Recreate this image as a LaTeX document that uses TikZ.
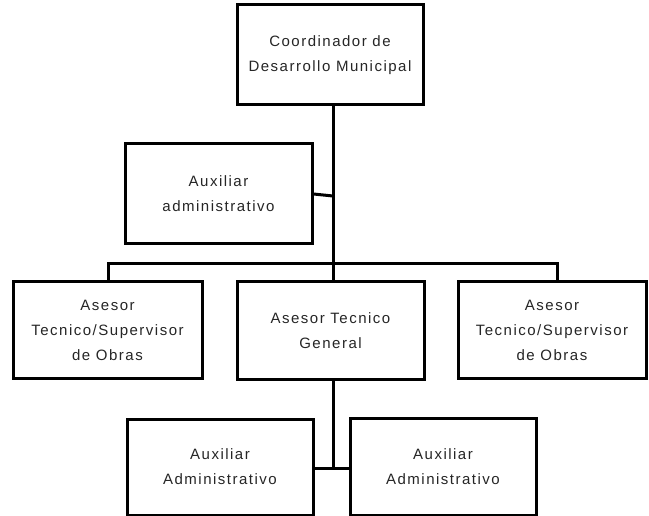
\documentclass[tikz,border=0pt]{standalone}
\usepackage{fontspec}
\setmainfont{Liberation Sans}[LetterSpace=10]
\begin{document}
\begin{tikzpicture}[x=1pt,y=-1pt,
  orgbox/.style={draw=black,line width=3pt,fill=white,inner sep=0pt,align=center,
    font=\fontsize{15}{25}\selectfont,text=black!85},
  conn/.style={draw=black,line width=3pt}]
\useasboundingbox (0,0) rectangle (649,516);
\node[orgbox,minimum width=186pt,minimum height=100pt] (top) at (330,55) {Coordinador de\\Desarrollo Municipal};
\node[orgbox,minimum width=187pt,minimum height=100pt] (aux) at (218.5,194) {Auxiliar\\administrativo};
\node[orgbox,minimum width=189pt,minimum height=96pt] (left) at (107.5,330) {Asesor\\Tecnico/Supervisor\\de Obras};
\node[orgbox,minimum width=187pt,minimum height=97pt] (mid) at (330.5,330.5) {Asesor Tecnico\\General};
\node[orgbox,minimum width=188pt,minimum height=96pt] (right) at (552,330) {Asesor\\Tecnico/Supervisor\\de Obras};
\node[orgbox,minimum width=186pt,minimum height=96pt] (bl) at (220,467) {Auxiliar\\Administrativo};
\node[orgbox,minimum width=186pt,minimum height=97pt] (br) at (443,466.5) {Auxiliar\\Administrativo};
\coordinate (j1) at (333,264);
\coordinate (jl) at (108,264);
\coordinate (jr) at (557,264);
\coordinate (j2) at (333,196);
\coordinate (j3) at (333,468);
\draw[conn] (top.south -| j1) -- (mid.north -| j1);
\draw[conn] (aux.east) -- (j2);
\draw[conn] (left.north -| jl) -- (jl) -- (jr) -- (right.north -| jr);
\draw[conn] (mid.south -| j1) -- (j3);
\draw[conn] (bl.east |- j3) -- (br.west |- j3);
\end{tikzpicture}
\end{document}
